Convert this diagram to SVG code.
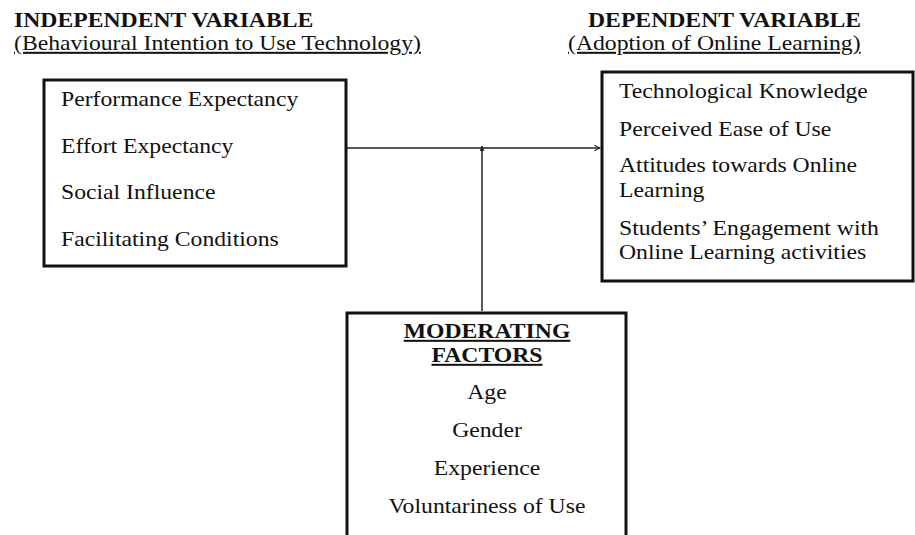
<svg xmlns="http://www.w3.org/2000/svg" width="915" height="535" viewBox="0 0 915 535">
<defs>
<style>
text{font-family:"Liberation Serif","Times New Roman",serif;font-size:20px;fill:#111}
.b{font-weight:bold}
.u{text-decoration:underline}
.box{fill:#fff;stroke:#111;stroke-width:3}
.con{stroke:#222;stroke-width:1.5;fill:none}
</style>
<marker id="open" viewBox="0 0 10 10" refX="9" refY="5" markerWidth="7" markerHeight="7" markerUnits="userSpaceOnUse" orient="auto">
<path d="M1,1 L9,5 L1,9" fill="none" stroke="#222" stroke-width="1.5"/>
</marker>
<marker id="tri" viewBox="0 0 10 10" refX="9" refY="5" markerWidth="6" markerHeight="6" markerUnits="userSpaceOnUse" orient="auto">
<path d="M0,1 L10,5 L0,9 Z" fill="#222"/>
</marker>
</defs>
<rect width="915" height="535" fill="#fff"/>
<g id="title-independent">
<g transform="translate(14,0) scale(1.185,1)">
<text class="b" x="0" y="27">INDEPENDENT VARIABLE</text>
<text class="u" x="0" y="50">(Behavioural Intention to Use Technology)</text>
</g>
</g>
<g id="title-dependent">
<g transform="translate(588,0) scale(1.185,1)">
<text class="b" x="0" y="27">DEPENDENT VARIABLE</text>
</g>
<g transform="translate(568,0) scale(1.185,1)">
<text class="u" x="0" y="50">(Adoption of Online Learning)</text>
</g>
</g>
<g id="connectors">
<line class="con" x1="347" y1="148" x2="600" y2="148" marker-end="url(#open)"/>
<line class="con" x1="482" y1="311" x2="482" y2="146" marker-end="url(#tri)"/>
</g>
<g id="node-independent">
<rect class="box" x="44" y="80" width="302" height="186"/>
<g transform="translate(61,0) scale(1.185,1)">
<text x="0" y="106">Performance Expectancy</text>
<text x="0" y="153">Effort Expectancy</text>
<text x="0" y="199">Social Influence</text>
<text x="0" y="246">Facilitating Conditions</text>
</g>
</g>
<g id="node-dependent">
<rect class="box" x="602" y="72" width="311" height="209"/>
<g transform="translate(619,0) scale(1.185,1)">
<text x="0" y="98">Technological Knowledge</text>
<text x="0" y="136">Perceived Ease of Use</text>
<text x="0" y="172">Attitudes towards Online</text>
<text x="0" y="197">Learning</text>
<text x="0" y="235">Students’ Engagement with</text>
<text x="0" y="259">Online Learning activities</text>
</g>
</g>
<g id="node-moderating">
<rect class="box" x="347" y="313" width="279" height="240"/>
<g transform="translate(487,0) scale(1.185,1)" text-anchor="middle">
<text class="b u" x="0" y="338">MODERATING</text>
<text class="b u" x="0" y="362">FACTORS</text>
<text x="0" y="399">Age</text>
<text x="0" y="437">Gender</text>
<text x="0" y="475">Experience</text>
<text x="0" y="513">Voluntariness of Use</text>
</g>
</g>
</svg>
